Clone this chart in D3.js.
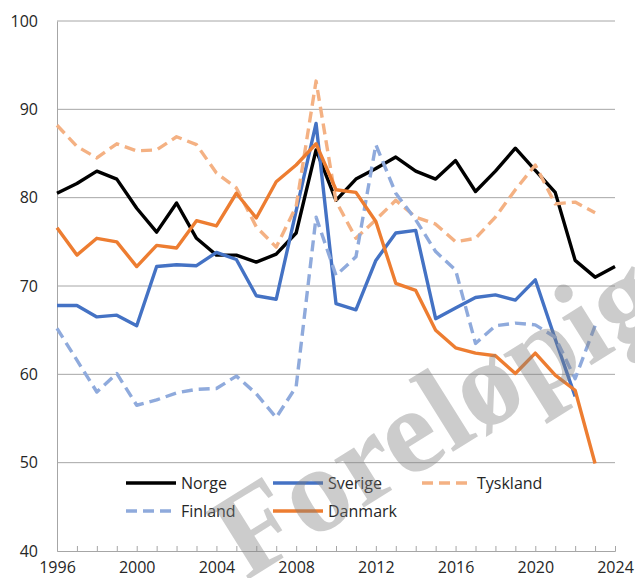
<!DOCTYPE html>
<meta charset="utf-8">
<style>
body { margin: 0; background: #fff; }
text { font-family: "Open Sans", "Noto Sans", sans-serif; }
</style>
<body>
<script src="https://d3js.org/d3.v7.min.js"></script>
<script>
var width = 635, height = 578;

// data, one value per year 1996-2024
var years = d3.range(1996, 2025);
var norge    = [80.5,81.6,83.0,82.1,78.8,76.1,79.4,75.4,73.5,73.5,72.7,73.6,76.0,85.4,79.7,82.1,83.3,84.6,83.0,82.1,84.2,80.7,83.0,85.6,83.1,80.6,72.9,71.0,72.2];
var sverige  = [67.8,67.8,66.5,66.7,65.5,72.2,72.4,72.3,73.8,73.0,68.9,68.5,78.5,88.4,68.0,67.3,72.9,76.0,76.3,66.3,67.5,68.7,69.0,68.4,70.7,64.0,57.5,null,null];
var tyskland = [88.2,85.8,84.5,86.1,85.3,85.4,86.9,86.0,82.8,81.1,76.7,74.4,79.0,93.2,79.6,75.4,77.5,79.7,77.8,77.0,75.0,75.4,77.8,80.9,83.7,79.3,79.5,78.3,null];
var finland  = [65.2,61.6,58.0,60.1,56.5,57.1,57.9,58.3,58.4,59.8,57.8,55.1,58.6,77.8,71.2,73.3,86.0,80.5,77.5,73.9,71.8,63.5,65.5,65.8,65.6,64.2,59.5,65.5,null];
var danmark  = [76.6,73.5,75.4,75.0,72.2,74.6,74.3,77.4,76.8,80.5,77.7,81.8,83.7,86.1,80.9,80.6,77.3,70.3,69.5,65.0,63.0,62.4,62.1,60.1,62.4,59.9,58.2,49.9,null];

var yTicks = [40, 50, 60, 70, 80, 90, 100];
var xTicks = [1996, 2000, 2004, 2008, 2012, 2016, 2020, 2024];

var series = [
  {name: "Norge",    values: norge,    color: "#000000", dash: null},
  {name: "Sverige",  values: sverige,  color: "#4472c4", dash: null},
  {name: "Tyskland", values: tyskland, color: "#f4b183", dash: "11,6"},
  {name: "Finland",  values: finland,  color: "#8faadc", dash: "11,6"},
  {name: "Danmark",  values: danmark,  color: "#ed7d31", dash: null}
];

var svg = d3.select("body").append("svg")
    .attr("width", width)
    .attr("height", height);

var x = d3.scaleLinear().domain([1996, 2024]).range([57, 615]);
var y = d3.scaleLinear().domain([40, 100]).range([551, 21]);

// gridlines
svg.append("g")
  .selectAll("line")
  .data(yTicks.filter(function(d) { return d > 40; }))
  .enter().append("line")
  .attr("x1", x(1996)).attr("x2", x(2024))
  .attr("y1", function(d) { return y(d); })
  .attr("y2", function(d) { return y(d); })
  .attr("stroke", "#a6a6a6")
  .attr("stroke-width", 1);

// y axis
var yAxis = svg.append("g")
  .attr("transform", "translate(" + x(1996) + ",0)")
  .call(d3.axisLeft(y).tickValues(yTicks).tickSize(0).tickPadding(19));
yAxis.select(".domain").attr("stroke", "#a6a6a6");
yAxis.selectAll("text").attr("font-size", 16).attr("fill", "#262626")
  .style("font-family", "'Open Sans', sans-serif");

// x axis with inside ticks every year
var xAxis = svg.append("g")
  .attr("transform", "translate(0," + y(40) + ")")
  .call(d3.axisBottom(x).tickValues(years).tickSize(-5).tickPadding(11)
    .tickFormat(function(d) { return xTicks.indexOf(d) >= 0 ? d : ""; }));
xAxis.select(".domain").attr("stroke", "#a6a6a6");
xAxis.selectAll(".tick line").attr("stroke", "#a6a6a6");
xAxis.selectAll("text").attr("font-size", 16).attr("fill", "#262626")
  .style("font-family", "'Open Sans', sans-serif");

var line = d3.line()
  .defined(function(d) { return d[1] != null; })
  .x(function(d) { return x(d[0]); })
  .y(function(d) { return y(d[1]); });

svg.append("g")
  .selectAll("path")
  .data(series)
  .enter().append("path")
  .attr("d", function(s) { return line(years.map(function(yr, i) { return [yr, s.values[i]]; })); })
  .attr("fill", "none")
  .attr("stroke", function(s) { return s.color; })
  .attr("stroke-width", 3.4)
  .attr("stroke-linejoin", "round")
  .attr("stroke-dasharray", function(s) { return s.dash; });

// legend
var legendPos = [[126, 483], [273, 483], [422, 483], [126, 511], [273, 511]];
var legend = svg.append("g")
  .selectAll("g")
  .data(series)
  .enter().append("g")
  .attr("transform", function(s, i) { return "translate(" + legendPos[i][0] + "," + legendPos[i][1] + ")"; });

legend.append("line")
  .attr("x1", 0).attr("x2", 50)
  .attr("stroke", function(s) { return s.color; })
  .attr("stroke-width", 3.4)
  .attr("stroke-dasharray", function(s) { return s.dash; });

legend.append("text")
  .attr("x", 55)
  .attr("dy", "0.35em")
  .attr("font-size", 16)
  .attr("fill", "#262626")
  .text(function(s) { return s.name; });

// watermark
svg.append("text")
  .attr("transform", "translate(246,581) rotate(-32)")
  .attr("font-weight", "bold")
  .attr("font-size", 122)
  .attr("fill", "#7f7f7f")
  .attr("fill-opacity", 0.4)
  .style("font-family", "'Liberation Serif', 'DejaVu Serif', serif")
  .text("Foreløpig");
</script>
</body>
